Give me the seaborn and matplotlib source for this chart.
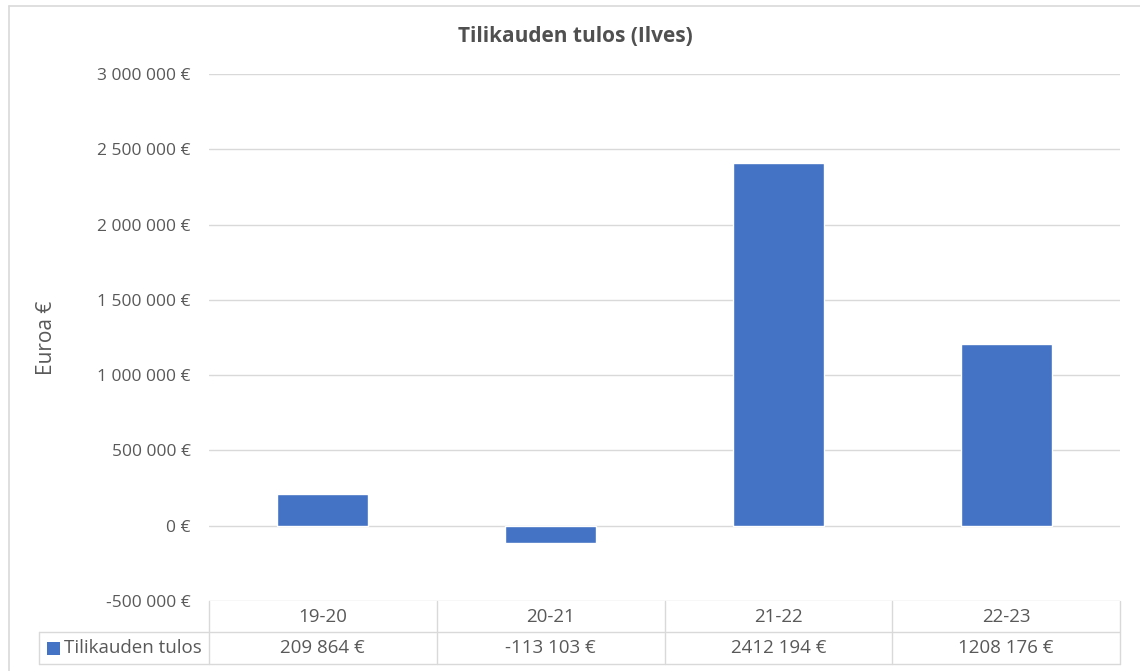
import matplotlib
matplotlib.use("Agg")
import matplotlib.pyplot as plt
import matplotlib.patches as mpatches
from matplotlib.ticker import FuncFormatter
import seaborn as sns
import pandas as pd

categories = ["19-20", "20-21", "21-22", "22-23"]
values = [209864, -113103, 2412194, 1208176]
value_labels = ["209 864 €", "-113 103 €", "2412 194 €", "1208 176 €"]
series_name = "Tilikauden tulos"
title = "Tilikauden tulos (Ilves)"
ylabel = "Euroa €"
yticks = [-500000, 0, 500000, 1000000, 1500000, 2000000, 2500000, 3000000]

sns.set_theme(style="white")
plt.rcParams["font.family"] = ["Open Sans", "DejaVu Sans"]

BLUE = "#4472C4"
TXT = "#595959"
GRID = "#D9D9D9"

W, H = 1140, 671
fig = plt.figure(figsize=(W / 100, H / 100), dpi=100)
ax = fig.add_axes([209 / W, 1 - 601 / H, (1120 - 209) / W, (601 - 74) / H])

df = pd.DataFrame({"cat": categories, "val": values})
sns.barplot(data=df, x="cat", y="val", color=BLUE, width=0.4, saturation=1,
            ax=ax, zorder=3)

ax.set_ylim(-500000, 3000000)
ax.set_xlim(-0.5, len(categories) - 0.5)
ax.set_yticks(yticks)


def fmt(v, pos):
    s = f"{int(round(v)):,}".replace(",", " ")
    return s + " €"


ax.yaxis.set_major_formatter(FuncFormatter(fmt))
ax.tick_params(axis="y", labelsize=12.5, labelcolor=TXT, length=0, pad=13)
ax.set_xticks([])
ax.set_xlabel("")
ax.set_ylabel("")
for s in ax.spines.values():
    s.set_visible(False)
ax.grid(axis="y", color=GRID, linewidth=1, zorder=0)
ax.grid(axis="x", visible=False)

fig.text(575 / W, 1 - 37 / H, title, ha="center", va="center",
         fontsize=15, fontweight="bold", color="#505050")
fig.text(46 / W, 1 - 338 / H, ylabel, ha="center", va="center",
         rotation=90, fontsize=15, color=TXT)

# data table beneath the plot
def fx(px):
    return px / W


def fy(py):
    return 1 - py / H


x_left = 209
x_right = 1120
x_legend = 39
n = len(categories)
col_w = (x_right - x_left) / n
y_top, y_mid, y_bot = 601, 632, 664
lc = GRID
lw = 1.0
fig.add_artist(plt.Line2D([fx(x_legend), fx(x_right)], [fy(y_mid)] * 2, color=lc, lw=lw))
fig.add_artist(plt.Line2D([fx(x_legend), fx(x_right)], [fy(y_bot)] * 2, color=lc, lw=lw))
for i in range(n + 1):
    xx = x_left + i * col_w
    fig.add_artist(plt.Line2D([fx(xx)] * 2, [fy(y_top), fy(y_bot)], color=lc, lw=lw))
fig.add_artist(plt.Line2D([fx(x_legend)] * 2, [fy(y_mid), fy(y_bot)], color=lc, lw=lw))

for i, (c, v) in enumerate(zip(categories, value_labels)):
    cx = x_left + (i + 0.5) * col_w
    fig.text(fx(cx), fy((y_top + y_mid) / 2), c, ha="center", va="center",
             fontsize=13.5, color=TXT)
    fig.text(fx(cx), fy((y_mid + y_bot) / 2), v, ha="center", va="center",
             fontsize=13.5, color=TXT)

fig.add_artist(mpatches.Rectangle((fx(47), fy(655)), 13 / W, 13 / H,
                                  facecolor=BLUE, edgecolor="none",
                                  transform=fig.transFigure))
fig.text(fx(64), fy((y_mid + y_bot) / 2), series_name, ha="left", va="center",
         fontsize=13.5, color=TXT)

fig.add_artist(plt.Line2D([fx(9), fx(9)], [fy(6), 0], color=GRID, lw=1.2))
fig.add_artist(plt.Line2D([fx(9), 1], [fy(6), fy(6)], color=GRID, lw=1.2))

fig.savefig("out.png", dpi=100)
